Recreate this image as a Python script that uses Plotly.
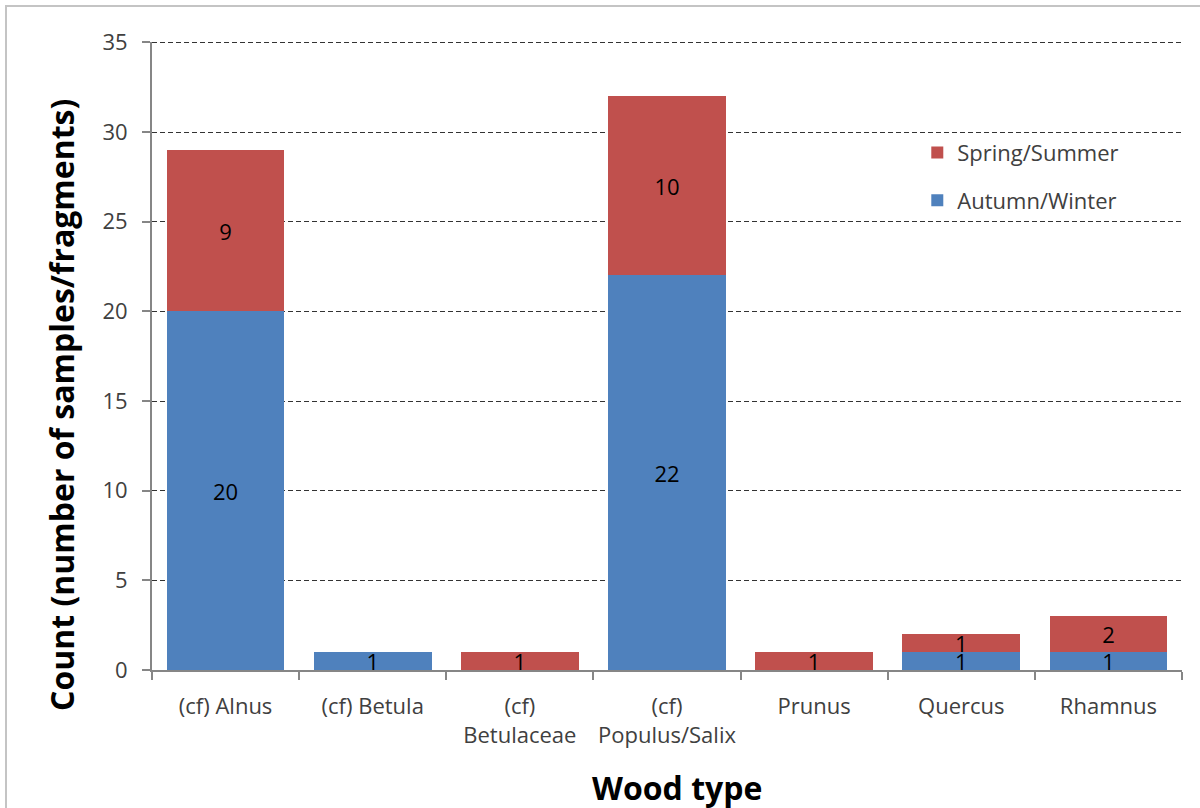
import plotly.graph_objects as go

# Charcoal wood types by season of felling
wood_types = ["(cf) Alnus", "(cf) Betula", "(cf)<br>Betulaceae", "(cf)<br>Populus/Salix",
              "Prunus", "Quercus", "Rhamnus"]
autumn_winter = [20, 1, 0, 22, 0, 1, 1]
spring_summer = [9, 0, 1, 10, 1, 1, 2]
y_max = 35

FONT = "Open Sans"
BLUE = "#4F81BD"
RED = "#C0504D"
TXT = 22
GRID_DASH = "5px,3px"


def labels(vals):
    return [str(v) if v else "" for v in vals]


fig = go.Figure()
fig.add_trace(go.Bar(
    x=wood_types, y=autumn_winter, name="Autumn/Winter",
    marker=dict(color=BLUE, line=dict(width=0)),
    text=labels(autumn_winter), textposition="inside", insidetextanchor="middle",
    textangle=0, textfont=dict(color="#000000", size=TXT, family=FONT),
    legendgroup="aw", legendrank=2,
))
fig.add_trace(go.Bar(
    x=wood_types, y=spring_summer, name="Spring/Summer",
    marker=dict(color=RED, line=dict(width=0)),
    text=labels(spring_summer), textposition="inside", insidetextanchor="middle",
    textangle=0, textfont=dict(color="#000000", size=TXT, family=FONT),
    legendgroup="ss", legendrank=1,
))

L, R, T, B = 152, 18, 42, 138
W, H = 1200, 808
pw, ph = W - L - R, H - T - B


def px_x(p):
    return (p - L) / pw


def px_y(p):
    return (H - B - p) / ph


fig.update_layout(
    width=W, height=H,
    barmode="stack", bargap=0.2,
    margin=dict(l=L, r=R, t=T, b=B, autoexpand=False),
    paper_bgcolor="white", plot_bgcolor="white",
    font=dict(family=FONT, size=TXT, color="#404040"),
    uniformtext=dict(minsize=TXT, mode="show"),
    showlegend=True,
    legend=dict(
        x=0.743, y=0.857, xanchor="left", yanchor="top",
        traceorder="grouped", tracegroupgap=16,
        font=dict(size=TXT, color="#404040", family=FONT),
        bgcolor="rgba(0,0,0,0)", itemwidth=30,
    ),
    xaxis=dict(
        showline=True, linecolor="#868686", linewidth=2,
        ticks="outside", ticklen=8, tickcolor="#868686", tickwidth=2,
        tickson="boundaries", ticklabelstandoff=16, tickangle=0,
        tickfont=dict(size=TXT, color="#404040", family=FONT),
        automargin=False,
    ),
    yaxis=dict(
        range=[0, y_max + 0.02], dtick=5, tick0=0,
        showline=True, linecolor="#868686", linewidth=2,
        ticks="outside", ticklen=8, tickcolor="#868686", tickwidth=2,
        ticklabelstandoff=10,
        showgrid=True, gridcolor="#333333", gridwidth=1.2, griddash=GRID_DASH,
        zeroline=False,
        tickfont=dict(size=TXT, color="#404040", family=FONT),
        automargin=False,
    ),
    annotations=[
        dict(text="<b>Wood type</b>", xref="paper", yref="paper",
             x=px_x(677), y=px_y(787), xanchor="center", yanchor="middle",
             showarrow=False, font=dict(size=32, color="#000000", family=FONT)),
        dict(text="<b>Count (number of samples/fragments)</b>", xref="paper", yref="paper",
             x=px_x(61), y=px_y(405), xanchor="center", yanchor="middle", textangle=-90,
             showarrow=False, font=dict(size=32, color="#000000", family=FONT)),
    ],
    shapes=[
        # outer chart-area frame
        dict(type="rect", xref="paper", yref="paper",
             x0=px_x(6), x1=px_x(W + 10), y0=px_y(H + 10), y1=px_y(6),
             line=dict(color="#c4c4c4", width=2), fillcolor="rgba(0,0,0,0)", layer="below"),
        # top gridline at the axis maximum
        dict(type="line", xref="paper", yref="y", x0=0, x1=1, y0=y_max, y1=y_max,
             line=dict(color="#333333", width=1.2, dash=GRID_DASH), layer="below"),
    ],
)

fig.write_html("out.html")
